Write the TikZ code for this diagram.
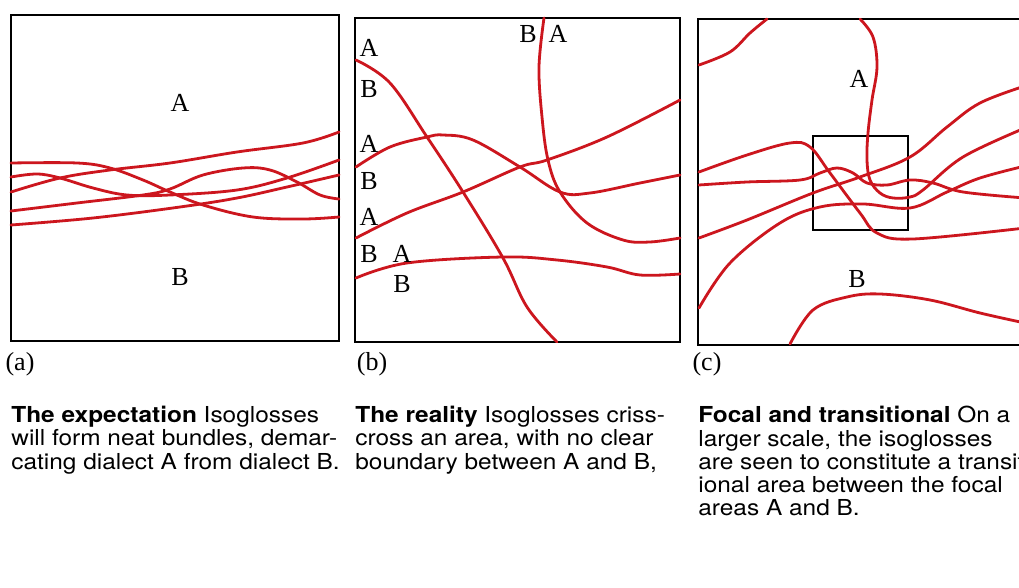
\documentclass[tikz,border=0pt]{standalone}
\usepackage{fontspec}
\usepackage{xcolor}
\setmainfont{Liberation Serif}
\newfontfamily\capfont{TeX Gyre Heros}[FakeStretch=1.11]
\definecolor{isoRed}{RGB}{204,22,30}
\newcommand{\CapLines}{\capfont\fontsize{11}{11.6}\selectfont}

\begin{document}
\begin{tikzpicture}[x=0.5pt,y=-0.5pt,
  isogloss/.style={draw=isoRed,line width=1.4pt,line cap=round},
  frame/.style={draw=black,line width=1pt},
  dialect/.style={font=\fontsize{13}{14}\selectfont,inner sep=0pt},
  caption/.style={anchor=north west,align=left,inner sep=0pt,font=\CapLines}]
  \useasboundingbox[fill=white] (0,0) rectangle (1019,588);
  % panel (a)
  \draw[frame] (11,15) rectangle (339,341);
  \draw[isogloss] plot[smooth,tension=0.6] coordinates {(11,163) (77,163) (110,168) (143,180) (170,192) (203,205) (253,217) (303,219) (339,217)};
  \draw[isogloss] plot[smooth,tension=0.6] coordinates {(11,177) (37,174) (60,178) (93,188) (127,195) (170,195) (237,190) (287,178) (339,160)};
  \draw[isogloss] plot[smooth,tension=0.6] coordinates {(11,192) (60,178) (110,170) (170,163) (237,152) (303,143) (339,132)};
  \draw[isogloss] plot[smooth,tension=0.6] coordinates {(11,211) (77,203) (143,195) (170,189) (203,175) (243,168) (270,170) (297,182) (320,195) (339,199)};
  \draw[isogloss] plot[smooth,tension=0.6] coordinates {(11,225) (93,218) (180,207) (237,198) (287,187) (339,175)};
  \node[dialect] (aA) at (180,103) {A};
  \node[dialect] (aB) at (180,277) {B};
  \node[dialect] (aTag) at (20,364) {(a)};
  % panel (b)
  \draw[frame] (355,18) rectangle (680,342);
  \draw[isogloss] plot[smooth,tension=0.6] coordinates {(356,60) (390,83) (427,137) (463,192) (503,258) (527,307) (557,342)};
  \draw[isogloss] plot[smooth,tension=0.6] coordinates {(356,167) (390,147) (427,137) (443,135) (473,140) (520,167) (560,192) (590,193) (640,183) (680,175)};
  \draw[isogloss] plot[smooth,tension=0.6] coordinates {(356,238) (407,213) (463,192) (520,167) (547,160) (607,137) (680,100)};
  \draw[isogloss] plot[smooth,tension=0.6] coordinates {(544,18) (539,67) (542,117) (548,160) (560,192) (587,223) (623,240) (650,242) (680,238)};
  \draw[isogloss] plot[smooth,tension=0.6] coordinates {(356,278) (407,263) (503,257) (557,260) (607,267) (640,275) (680,274)};
  \node[dialect] (bA1) at (369,48) {A};
  \node[dialect] (bB1) at (369,89) {B};
  \node[dialect] (bA2) at (369,144) {A};
  \node[dialect] (bB2) at (369,181) {B};
  \node[dialect] (bA3) at (369,217) {A};
  \node[dialect] (bB3) at (369,254) {B};
  \node[dialect] (bA4) at (402,254) {A};
  \node[dialect] (bB4) at (402,284) {B};
  \node[dialect] (bB5) at (528,34) {B};
  \node[dialect] (bA5) at (558,34) {A};
  \node[dialect] (bTag) at (372,364) {(b)};
  % panel (c)
  \draw[frame] (1030,19) -- (698,19) -- (698,345) -- (1030,345);
  \draw[frame,line width=0.8pt] (813,136) rectangle (908,230);
  \draw[isogloss] plot[smooth,tension=0.6] coordinates {(699,65) (730,52) (750,33) (767,19)};
  \draw[isogloss] plot[smooth,tension=0.6] coordinates {(860,19) (873,37) (877,67) (872,100) (868,133) (867,160) (870,180) (880,193) (893,198) (910,197) (923,190) (963,157) (1025,128)};
  \draw[isogloss] plot[smooth,tension=0.6] coordinates {(699,172) (747,155) (790,143) (810,147) (830,173) (860,213) (877,233) (913,239) (1025,228)};
  \draw[isogloss] plot[smooth,tension=0.6] coordinates {(699,185) (747,182) (800,180) (820,173) (837,168) (853,173) (867,183) (887,185) (910,180) (933,183) (963,192) (1025,198)};
  \draw[isogloss] plot[smooth,tension=0.6] coordinates {(699,238) (747,220) (813,193) (860,177) (910,157) (947,127) (980,103) (1025,86)};
  \draw[isogloss] plot[smooth,tension=0.6] coordinates {(699,308) (730,263) (780,223) (820,207) (863,204) (910,208) (947,192) (980,178) (1025,166)};
  \draw[isogloss] plot[smooth,tension=0.6] coordinates {(790,344) (813,310) (847,297) (880,294) (930,300) (980,313) (1025,323)};
  \node[dialect] (cA) at (859,79) {A};
  \node[dialect] (cB) at (857,279) {B};
  \node[dialect] (cTag) at (707,364) {(c)};
  % captions
  \node[caption] (capA) at (11,406) {\textbf{The expectation} Isoglosses\\will form neat bundles, demar-\\cating dialect A from dialect B.};
  \node[caption] (capB) at (355,406) {\textbf{The reality} Isoglosses criss-\\cross an area, with no clear\\boundary between A and B,};
  \node[caption] (capC) at (698,406) {\textbf{Focal and transitional} On a\\larger scale, the isoglosses\\are seen to constitute a transit\\ional area between the focal\\areas A and B.};
\end{tikzpicture}
\end{document}
